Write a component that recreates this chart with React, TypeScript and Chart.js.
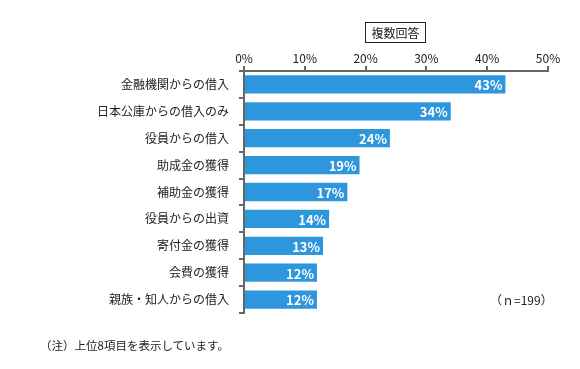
import React, { useEffect, useRef } from "react";
import { Chart, registerables } from "chart.js";

Chart.register(...registerables);

const categories = [
  "金融機関からの借入",
  "日本公庫からの借入のみ",
  "役員からの借入",
  "助成金の獲得",
  "補助金の獲得",
  "役員からの出資",
  "寄付金の獲得",
  "会費の獲得",
  "親族・知人からの借入",
];
const values = [43, 34, 24, 19, 17, 14, 13, 12, 12];
const xTicks = [0, 10, 20, 30, 40, 50];

const FONT = "'Noto Sans CJK JP', 'Noto Sans', sans-serif";
const AXIS = "#666666";

const valueLabels = {
  id: "valueLabels",
  afterDatasetsDraw(chart: any) {
    const ctx = chart.ctx;
    const meta = chart.getDatasetMeta(0);
    ctx.save();
    ctx.fillStyle = "#ffffff";
    ctx.font = `bold 13px ${FONT}`;
    ctx.textAlign = "right";
    ctx.textBaseline = "middle";
    meta.data.forEach((el: any, i: number) => {
      ctx.fillText(values[i] + "%", el.x - 3, el.y + 1);
    });
    ctx.restore();
  },
};

export default function App() {
  const ref = useRef<HTMLCanvasElement | null>(null);
  useEffect(() => {
    if (!ref.current) return;
    const chart = new Chart(ref.current, {
      type: "bar",
      data: {
        labels: categories,
        datasets: [
          {
            data: values,
            backgroundColor: "#2E96DC",
            borderWidth: 0,
            barPercentage: 0.68,
            categoryPercentage: 1,
          },
        ],
      },
      options: {
        indexAxis: "y",
        animation: false,
        responsive: false,
        layout: { padding: { left: 0, top: 0, right: 32, bottom: 56 } },
        plugins: { legend: { display: false }, tooltip: { enabled: false } },
        scales: {
          x: {
            position: "top",
            min: 0,
            max: 50,
            afterBuildTicks: (s: any) => {
              s.ticks = xTicks.map((v) => ({ value: v }));
            },
            afterFit: (s: any) => {
              s.height = 71;
            },
            ticks: {
              callback: (v: any) => v + "%",
              color: "#222",
              font: { family: FONT, size: 12 },
              padding: 0,
              maxRotation: 0,
            },
            grid: {
              drawOnChartArea: false,
              drawTicks: true,
              tickLength: 5,
              color: AXIS,
              lineWidth: 2,
            },
            border: { display: true, color: AXIS, width: 2 },
          },
          y: {
            afterFit: (s: any) => {
              s.width = 244;
            },
            ticks: {
              color: "#222",
              font: { family: FONT, size: 12 },
              padding: 10,
            },
            grid: {
              offset: true,
              drawOnChartArea: false,
              drawTicks: true,
              tickLength: 5,
              color: AXIS,
              lineWidth: 2,
            },
            border: { display: true, color: AXIS, width: 2 },
          },
        },
      },
      plugins: [valueLabels],
    });
    return () => chart.destroy();
  }, []);

  return (
    <div style={{ position: "fixed", left: 0, top: 0, width: 580, height: 369, background: "#fff", fontFamily: FONT }}>
      <canvas ref={ref} width={580} height={369} style={{ position: "absolute", left: 0, top: 0 }} />
      <div
        style={{
          position: "absolute",
          left: 365,
          top: 22,
          width: 59,
          height: 19,
          border: "1px solid #222",
          fontSize: 12,
          lineHeight: "19px",
          textAlign: "center",
          color: "#222",
        }}
      >
        複数回答
      </div>
      <div style={{ position: "absolute", left: 490, top: 291, fontSize: 12, color: "#222", whiteSpace: "nowrap" }}>
        （ｎ=199）
      </div>
      <div style={{ position: "absolute", left: 40, top: 337, fontSize: 11.5, color: "#222", whiteSpace: "nowrap" }}>
        （注）上位8項目を表示しています。
      </div>
    </div>
  );
}
